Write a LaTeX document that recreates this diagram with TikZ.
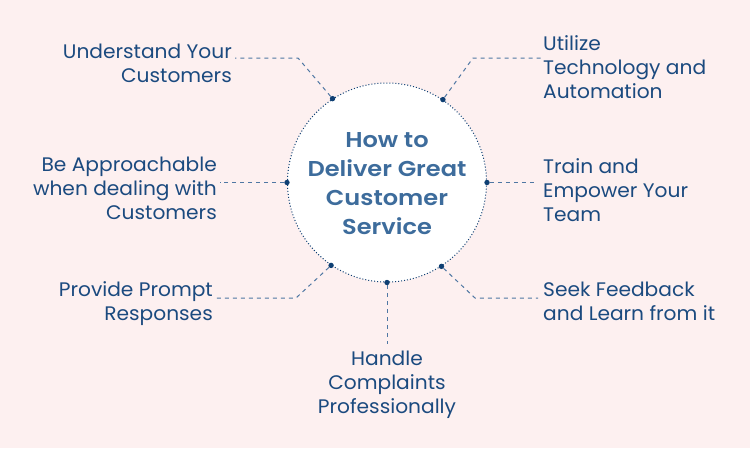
\documentclass[tikz,border=0pt]{standalone}
\usepackage{fontspec}
\setmainfont{Poppins}[BoldFont={Poppins SemiBold}]
\newfontfamily\titlefont{Poppins SemiBold}[FakeStretch=1.12]
\newfontfamily\capfont{Poppins}[FakeStretch=1.03]
\definecolor{bg}{HTML}{FDF0F0}
\definecolor{txt}{HTML}{1B4A7F}
\definecolor{ttl}{HTML}{3D6C9C}
\definecolor{dotc}{HTML}{0E3F73}
\definecolor{linec}{HTML}{4F77A3}
\tikzset{
  captext/.style={inner sep=0pt, text=txt, font=\fontsize{19.6}{24}\capfont},
  capR/.style={captext, align=right, anchor=east},
  capL/.style={captext, align=left, anchor=west},
  capC/.style={captext, align=center},
  dotnode/.style={circle, fill=dotc, inner sep=0pt, minimum size=5.4pt},
  conn/.style={draw=linec, line width=1pt, dash pattern=on 4pt off 4pt},
}
\begin{document}
\begin{tikzpicture}[x=1pt,y=-1pt]
\fill[bg] (0,0) rectangle (750,448);
\useasboundingbox (0,0) rectangle (750,448);
\node[circle, fill=white, draw=dotc, dotted, line width=1pt, minimum size=199pt, inner sep=0pt] (c) at (387,182.5) {};
\node[inner sep=0pt, text=ttl, align=center, font=\fontsize{21.5}{29}\titlefont] (t) at (387,184) {How to\\Deliver Great\\Customer\\Service};
% dots
\node[dotnode] (d1) at (c.123.5) {};
\node[dotnode] (d2) at (c.56.5) {};
\node[dotnode] (d3) at (c.180) {};
\node[dotnode] (d4) at (c.0) {};
\node[dotnode] (d5) at (c.236.5) {};
\node[dotnode] (d6) at (c.303.5) {};
\node[dotnode] (d7) at (c.270) {};
% captions
\node[capR] (n1) at (232,63) {Understand Your\\Customers};
\node[capL] (n2) at (543,67) {Utilize\\Technology and\\Automation};
\node[capR] (n3) at (217,188) {Be Approachable\\when dealing with\\Customers};
\node[capL] (n4) at (543,190) {Train and\\Empower Your\\Team};
\node[capR] (n5) at (213,304) {Provide Prompt\\Responses};
\node[capL] (n6) at (543,301.5) {Seek Feedback\\and Learn from it};
\node[capC] (n7) at (387,384.5) {Handle\\Complaints\\Professionally};
% connector points
\coordinate (k1) at (298,58);  \coordinate (e1) at (235,58);
\coordinate (k2) at (473,58);  \coordinate (e2) at (541,58);
\coordinate (e3) at (220,182.5);
\coordinate (e4) at (537,182.5);
\coordinate (k5) at (296,298); \coordinate (e5) at (215,298);
\coordinate (k6) at (475,298); \coordinate (e6) at (538,298);
\coordinate (e7) at (387,344);
\draw[conn] (d1) -- (k1) -- (e1);
\draw[conn] (d2) -- (k2) -- (e2);
\draw[conn] (d3) -- (e3);
\draw[conn] (d4) -- (e4);
\draw[conn] (d5) -- (k5) -- (e5);
\draw[conn] (d6) -- (k6) -- (e6);
\draw[conn] (d7) -- (e7);
\end{tikzpicture}
\end{document}
